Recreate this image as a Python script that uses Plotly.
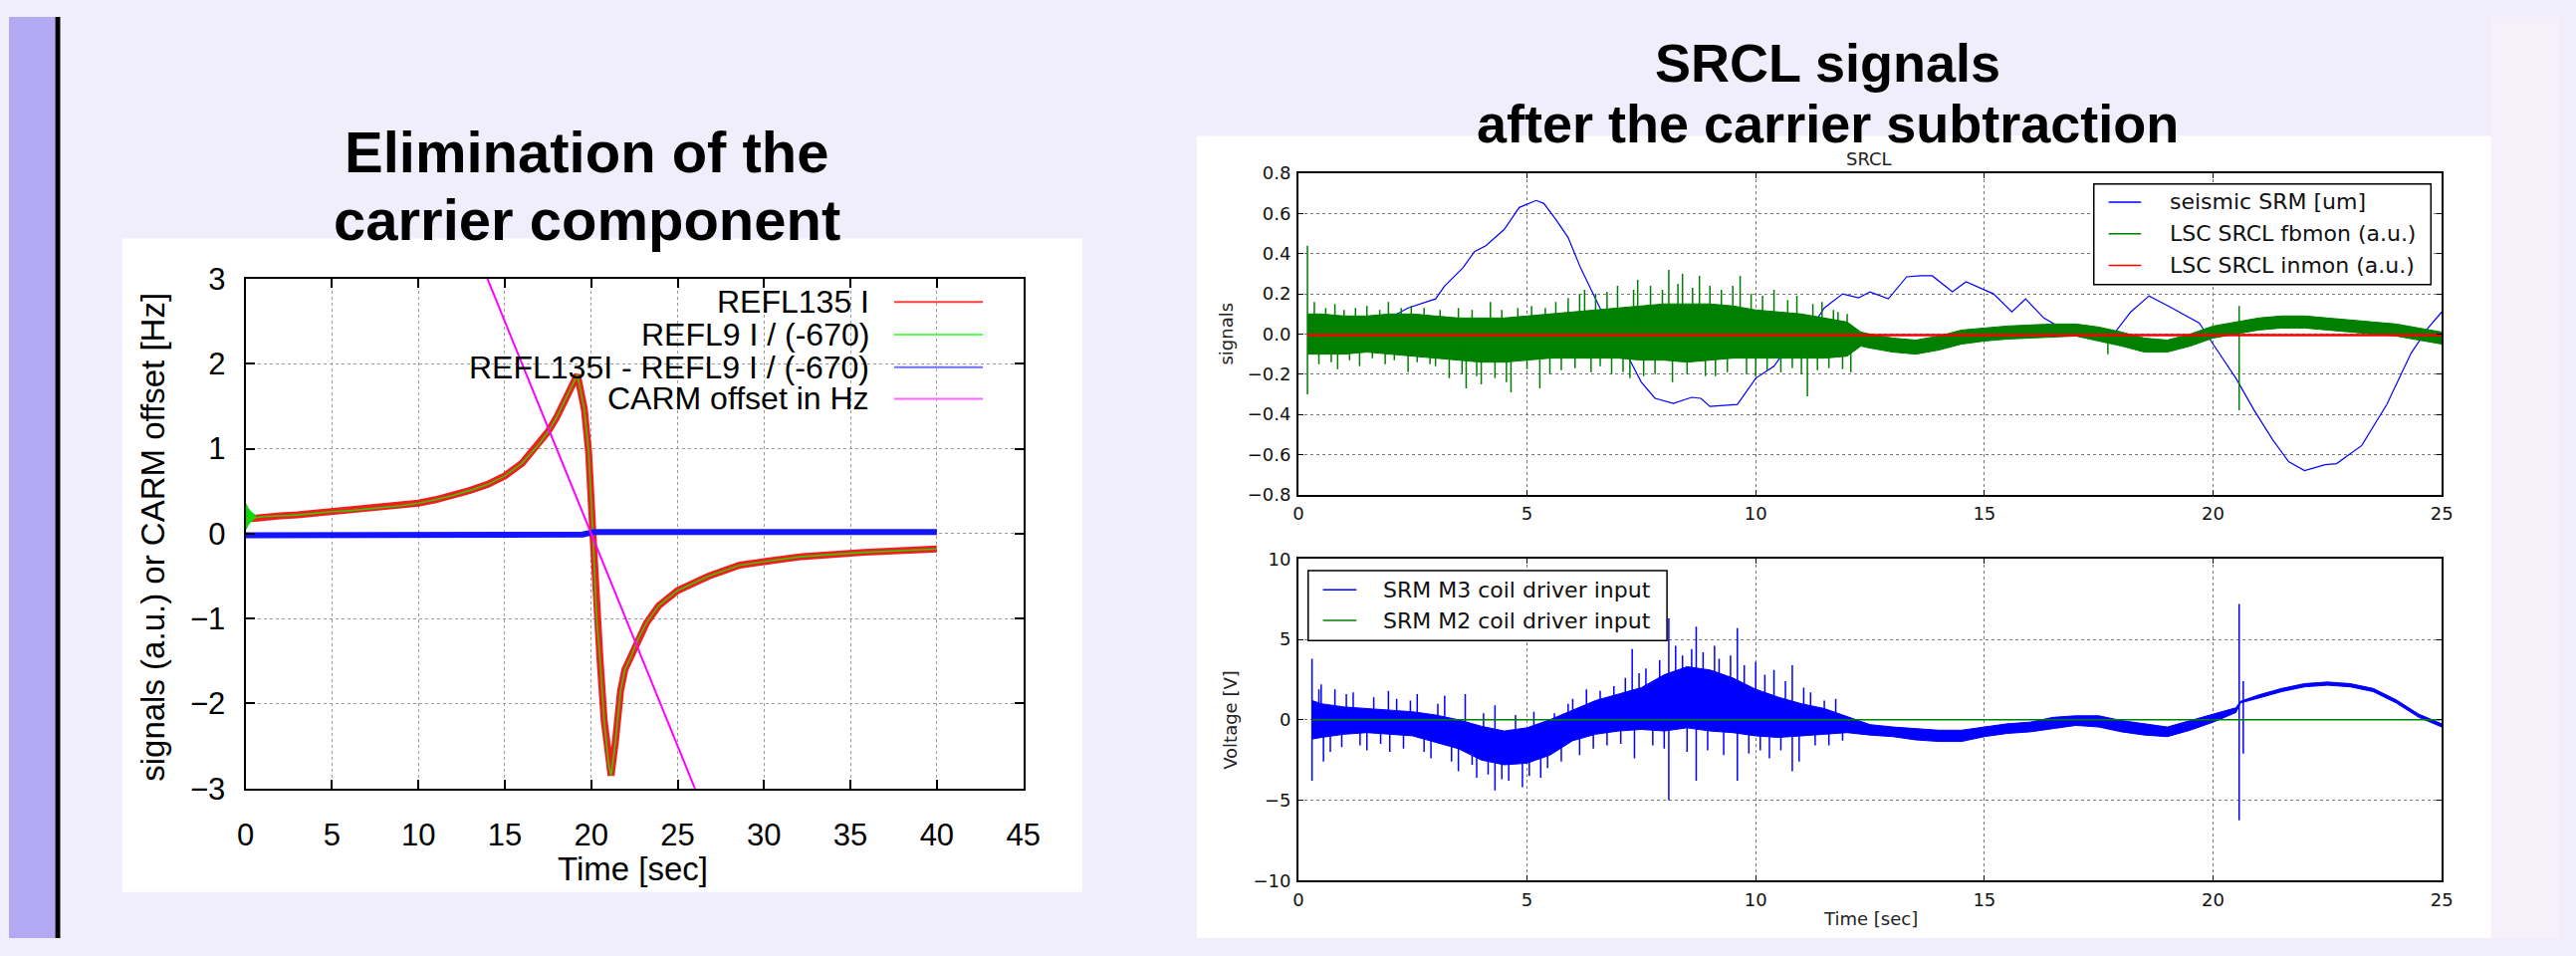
import numpy as np
import plotly.graph_objects as go

W, H = 2587, 960

# ---------------- Left chart: Elimination of the carrier component ----------------
refl_t = [0, 1, 2, 3, 4, 5, 6, 7, 8, 9, 10, 11, 12, 13, 14, 15, 16, 16.5, 17, 17.5, 18, 18.5,
          19.0, 19.2, 19.6, 19.85, 20.1, 20.3, 20.5, 20.75, 21.0, 21.15, 21.4, 21.7, 21.95, 22.3,
          22.7, 23.2, 23.9, 25, 26.8, 28.6, 30, 32.2, 35.8, 40]
refl135_i = [0.17, 0.2, 0.21, 0.22, 0.24, 0.26, 0.27, 0.29, 0.31, 0.33, 0.36, 0.4, 0.45, 0.51,
             0.58, 0.68, 0.83, 0.95, 1.06, 1.2, 1.37, 1.58, 1.8, 1.87, 1.47, 0.96, 0.0, -0.95,
             -1.45, -2.2, -2.7, -2.85, -2.45, -1.85, -1.6, -1.45, -1.25, -1.05, -0.85, -0.67,
             -0.5, -0.37, -0.33, -0.27, -0.22, -0.18]
refl9_i = [0.17, 0.2, 0.21, 0.22, 0.24, 0.26, 0.27, 0.29, 0.31, 0.33, 0.36, 0.4, 0.45, 0.51,
           0.58, 0.68, 0.83, 0.95, 1.06, 1.2, 1.37, 1.58, 1.8, 1.87, 1.47, 0.96, 0.0, -0.95,
           -1.45, -2.2, -2.7, -2.85, -2.45, -1.85, -1.6, -1.45, -1.25, -1.05, -0.85, -0.67,
           -0.5, -0.37, -0.33, -0.27, -0.22, -0.18]
ring_t = [0, 0.15, 0.3, 0.45, 0.6]
ring_hi = [0.36, 0.3, 0.26, 0.23, 0.21]
ring_lo = [0.04, 0.1, 0.14, 0.17, 0.19]
diff_t = [0, 5, 10, 15, 19.5, 20.2, 25, 30, 35, 40]
diff_v = [-0.02, -0.02, -0.015, -0.01, -0.01, 0.02, 0.02, 0.02, 0.015, 0.02]
carm_t = [0, 40]
carm_hz = [10, -10]

# ---------------- Right top: SRCL ----------------
seis_t = [0.2, 1.0, 1.6, 2.0, 2.4, 3.0, 3.2, 3.6, 3.85, 4.1, 4.5, 4.83, 5.2, 5.37, 5.63, 5.9,
          6.17, 6.44, 6.7, 7.0, 7.25, 7.5, 7.8, 8.2, 8.6, 8.8, 9.0, 9.6, 10.0, 10.4, 10.9, 11.3,
          11.5, 11.9, 12.25, 12.5, 12.9, 13.3, 13.6, 13.86, 14.3, 14.6, 15.2, 15.6, 15.9, 16.3,
          16.6, 17.35, 17.8, 18.2, 18.6, 19.1, 19.7, 20.0, 20.5, 20.9, 21.3, 21.65, 22.0, 22.45,
          22.7, 23.25, 23.8, 24.33, 24.7, 25.0]
seis_v = [0.0, 0.02, 0.05, 0.08, 0.13, 0.175, 0.24, 0.33, 0.41, 0.44, 0.52, 0.63, 0.665, 0.65,
          0.57, 0.48, 0.33, 0.2, 0.08, -0.03, -0.13, -0.24, -0.32, -0.345, -0.315, -0.32, -0.36,
          -0.35, -0.22, -0.16, 0.0, 0.06, 0.13, 0.2, 0.18, 0.21, 0.175, 0.285, 0.29, 0.29, 0.21,
          0.26, 0.2, 0.11, 0.175, 0.08, 0.04, 0.015, -0.008, 0.11, 0.19, 0.13, 0.055, -0.05,
          -0.22, -0.38, -0.525, -0.635, -0.68, -0.65, -0.645, -0.555, -0.35, -0.095, 0.03, 0.11]

fb_t = [0.2, 0.5, 1, 1.5, 2, 2.5, 3, 3.5, 4, 4.5, 5, 5.5, 6, 6.5, 7, 7.5, 8, 8.5, 9, 9.5, 10,
        10.5, 11, 11.5, 12.0, 12.3, 12.5, 13, 13.5, 14, 14.5, 15, 15.5, 16, 16.5, 17, 17.5, 18,
        18.5, 19, 19.5, 20, 20.5, 21, 21.5, 22, 22.5, 23, 23.5, 24, 24.5, 25]
fb_hi = [0.1, 0.1, 0.09, 0.09, 0.1, 0.1, 0.09, 0.08, 0.08, 0.08, 0.09, 0.1, 0.11, 0.12, 0.13,
         0.14, 0.15, 0.15, 0.15, 0.14, 0.12, 0.11, 0.1, 0.08, 0.06, 0.01, 0.0, -0.02, -0.03,
         -0.01, 0.02, 0.03, 0.04, 0.045, 0.05, 0.05, 0.035, 0.01, -0.02, -0.03, 0.0, 0.04, 0.06,
         0.08, 0.09, 0.09, 0.08, 0.07, 0.06, 0.05, 0.03, 0.01]
fb_lo = [-0.1, -0.1, -0.1, -0.09, -0.1, -0.11, -0.12, -0.13, -0.14, -0.14, -0.13, -0.12,
         -0.12, -0.12, -0.12, -0.13, -0.13, -0.14, -0.13, -0.12, -0.12, -0.12, -0.12, -0.12,
         -0.11, -0.06, -0.07, -0.09, -0.1, -0.08, -0.05, -0.035, -0.025, -0.02, -0.015, -0.01,
         -0.035, -0.06, -0.09, -0.09, -0.06, -0.02, 0.0, 0.02, 0.03, 0.03, 0.02, 0.01, 0.0,
         -0.01, -0.03, -0.05]
fb_spike_t = [0.2, 0.2, 0.35, 0.45, 0.6, 0.72, 0.8, 0.86, 1.0, 1.12, 1.25, 1.34, 1.5, 1.62,
              1.78, 1.9, 1.97, 2.1, 2.25, 2.4, 2.47, 2.6, 2.75, 2.88, 3.0, 3.1, 3.3, 3.5, 3.58,
              3.67, 3.8, 3.9, 4.0, 4.2, 4.3, 4.45, 4.55, 4.65, 4.8, 5.0, 5.1, 5.28, 5.4, 5.5,
              5.63, 5.75, 5.9, 6.05, 6.15, 6.26, 6.4, 6.5, 6.6, 6.75, 6.85, 6.98, 7.1, 7.25,
              7.33, 7.42, 7.55, 7.7, 7.8, 7.96, 8.1, 8.18, 8.3, 8.4, 8.5, 8.62, 8.77, 8.9, 9.0,
              9.12, 9.25, 9.38, 9.5, 9.66, 9.8, 9.9, 10.0, 10.15, 10.25, 10.4, 10.55, 10.7,
              10.8, 10.9, 11.0, 11.13, 11.25, 11.35, 11.45, 11.6, 11.7, 11.8, 11.9, 12.0, 12.08,
              17.7, 20.57, 20.57]
fb_spike_v = [0.44, -0.30, 0.16, -0.15, 0.13, -0.14, 0.15, -0.175, 0.12, -0.13, 0.13, -0.16,
              0.14, -0.12, 0.12, -0.15, 0.16, -0.13, 0.13, -0.19, 0.14, -0.14, 0.13, -0.15,
              -0.16, 0.12, -0.22, 0.13, -0.2, -0.27, 0.12, -0.21, -0.25, 0.16, -0.22, 0.12,
              -0.24, -0.29, 0.13, -0.175, 0.14, -0.27, 0.13, -0.2, 0.16, -0.18, 0.18, -0.17,
              0.2, 0.22, -0.19, 0.2, -0.16, 0.21, -0.2, 0.24, -0.19, -0.22, 0.22, 0.27, -0.21,
              0.24, -0.2, 0.22, 0.32, -0.24, 0.25, 0.30, -0.2, 0.23, 0.29, -0.21, 0.24, -0.21,
              0.22, -0.19, 0.24, 0.29, -0.2, 0.2, -0.21, 0.19, -0.18, 0.22, -0.19, 0.17, -0.17,
              0.19, -0.2, -0.31, 0.15, -0.18, 0.16, -0.17, 0.12, 0.11, -0.175, 0.1, -0.19,
              -0.10, 0.14, -0.38]
inmon_t = [0.2, 25]
inmon_v = [-0.005, -0.005]

# ---------------- Right bottom: coil driver inputs ----------------
m3_t = [0.3, 0.5, 1.0, 1.5, 2.0, 2.5, 3.0, 3.5, 4.0, 4.5, 5.0, 5.5, 6.0, 6.5, 7.0, 7.5, 8.0,
        8.5, 9.0, 9.5, 10.0, 10.5, 11.0, 11.5, 12.0, 12.5, 13.0, 13.5, 14.0, 14.5, 15.0, 15.5,
        16.0, 16.5, 17.0, 17.5, 18.0, 18.5, 19.0, 19.5, 20.0, 20.5, 20.6, 21.0, 21.5, 22.0,
        22.5, 23.0, 23.5, 24.0, 24.5, 25.0]
m3_hi = [1.2, 1.0, 0.8, 0.7, 0.6, 0.5, 0.3, 0.0, -0.4, -0.7, -0.5, 0.0, 0.6, 1.2, 1.6, 2.0,
         2.8, 3.3, 3.1, 2.6, 1.9, 1.4, 1.0, 0.7, 0.2, -0.3, -0.45, -0.55, -0.65, -0.65, -0.45,
         -0.25, -0.15, 0.15, 0.25, 0.25, -0.05, -0.25, -0.45, -0.05, 0.35, 0.75, 1.15, 1.55,
         1.95, 2.25, 2.35, 2.25, 1.95, 1.25, 0.35, -0.25]
m3_lo = [-1.2, -1.1, -0.9, -0.8, -0.9, -1.0, -1.4, -1.8, -2.5, -2.8, -2.7, -2.2, -1.3, -0.9,
         -0.7, -0.6, -0.7, -0.5, -0.7, -0.8, -1.0, -1.1, -1.0, -0.9, -0.8, -0.95, -1.05, -1.25,
         -1.35, -1.35, -1.05, -0.85, -0.75, -0.55, -0.35, -0.45, -0.75, -0.95, -1.05, -0.65,
         -0.15, 0.45, 1.05, 1.35, 1.75, 2.05, 2.15, 2.05, 1.75, 1.05, 0.15, -0.45]
m3_spike_t = [0.3, 0.3, 0.45, 0.5, 0.55, 0.7, 0.8, 0.95, 1.05, 1.2, 1.35, 1.5, 1.65, 1.8, 1.97,
              2.0, 2.15, 2.3, 2.45, 2.6, 2.75, 2.9, 3.05, 3.2, 3.35, 3.5, 3.65, 3.8, 3.9, 4.05,
              4.15, 4.3, 4.3, 4.45, 4.6, 4.75, 4.9, 5.05, 5.15, 5.3, 5.45, 5.6, 5.75, 5.9, 6.0,
              6.15, 6.3, 6.45, 6.6, 6.75, 6.9, 7.05, 7.15, 7.3, 7.35, 7.45, 7.6, 7.75, 7.9, 8.0,
              8.1, 8.1, 8.25, 8.4, 8.5, 8.6, 8.7, 8.7, 8.85, 8.95, 9.1, 9.2, 9.3, 9.45, 9.6,
              9.6, 9.75, 9.85, 10.0, 10.1, 10.2, 10.3, 10.4, 10.55, 10.65, 10.8, 10.8, 10.95,
              11.05, 11.2, 11.3, 11.5, 11.6, 11.75, 11.9, 20.57, 20.57, 20.66, 20.66]
m3_spike_v = [3.8, -3.8, 1.9, 2.2, -2.6, -2.0, 1.9, -1.7, 1.6, 1.7, -1.6, -1.9, 1.4, -1.5,
              1.8, -2.0, 1.3, -1.8, 1.2, 1.6, -2.0, -2.4, 1.0, 1.5, -2.6, -3.2, 1.6, -2.8, -3.6,
              0.4, -3.4, -4.4, 0.9, -3.7, -3.8, 0.3, -4.2, -3.5, 0.5, -3.6, -3.0, 0.4, -2.6,
              1.0, 1.3, -2.2, 1.9, -1.8, 1.8, -1.6, 2.1, -1.5, 2.6, 4.4, -2.4, 2.9, 3.2, -1.6,
              3.7, -1.8, 6.3, -5.0, 4.6, 4.0, -2.0, 4.4, 5.8, -3.8, 4.2, -1.9, 4.6, 3.8, -2.2,
              4.0, 5.7, -3.8, 3.4, -2.1, 3.6, -1.9, 2.8, -2.4, 3.1, -1.9, 2.4, 3.4, -3.2, -2.6,
              2.0, 1.7, -1.6, 1.2, -1.6, 1.3, -1.3, 7.2, -6.25, 2.4, -2.1]
m2_t = [0.3, 25]
m2_v = [0, 0]


def px(x):
    return x / W


def py(y):
    return 1 - y / H


def spikes(ts, vs, bt, bhi, blo):
    mid = (np.array(bhi) + np.array(blo)) / 2.0
    xs, ys = [], []
    for t, v in zip(ts, vs):
        c = float(np.interp(t, bt, mid))
        xs += [t, t, None]
        ys += [c, v, None]
    return xs, ys


fig = go.Figure()

# Left chart traces
fig.add_trace(go.Scatter(x=refl_t, y=refl135_i, mode="lines", line=dict(color="rgb(240,30,30)", width=7),
                         xaxis="x", yaxis="y", hoverinfo="skip"))
fig.add_trace(go.Scatter(x=ring_t, y=ring_lo, mode="lines", line=dict(color="rgb(0,220,0)", width=1),
                         xaxis="x", yaxis="y", hoverinfo="skip"))
fig.add_trace(go.Scatter(x=ring_t, y=ring_hi, mode="lines", line=dict(color="rgb(0,220,0)", width=1),
                         fill="tonexty", fillcolor="rgb(0,220,0)", xaxis="x", yaxis="y", hoverinfo="skip"))
fig.add_trace(go.Scatter(x=refl_t, y=refl9_i, mode="lines", line=dict(color="rgb(60,200,0)", width=1.6),
                         xaxis="x", yaxis="y", hoverinfo="skip"))
fig.add_trace(go.Scatter(x=diff_t, y=diff_v, mode="lines", line=dict(color="rgb(20,20,255)", width=6),
                         xaxis="x", yaxis="y", hoverinfo="skip"))
fig.add_trace(go.Scatter(x=carm_t, y=carm_hz, mode="lines", line=dict(color="rgb(255,0,255)", width=2),
                         xaxis="x", yaxis="y", hoverinfo="skip"))

# Right top traces
fig.add_trace(go.Scatter(x=seis_t, y=seis_v, mode="lines", line=dict(color="#0000FF", width=1.2),
                         xaxis="x2", yaxis="y2", hoverinfo="skip"))
fig.add_trace(go.Scatter(x=fb_t, y=fb_lo, mode="lines", line=dict(color="#007F00", width=1),
                         xaxis="x2", yaxis="y2", hoverinfo="skip"))
fig.add_trace(go.Scatter(x=fb_t, y=fb_hi, mode="lines", line=dict(color="#007F00", width=1),
                         fill="tonexty", fillcolor="#007F00", xaxis="x2", yaxis="y2", hoverinfo="skip"))
sx, sy = spikes(fb_spike_t, fb_spike_v, fb_t, fb_hi, fb_lo)
fig.add_trace(go.Scatter(x=sx, y=sy, mode="lines", line=dict(color="#007F00", width=1.5),
                         xaxis="x2", yaxis="y2", hoverinfo="skip", connectgaps=False))
fig.add_trace(go.Scatter(x=inmon_t, y=inmon_v, mode="lines", line=dict(color="#FF0000", width=2.5),
                         xaxis="x2", yaxis="y2", hoverinfo="skip"))

# Right bottom traces
fig.add_trace(go.Scatter(x=m3_t, y=m3_lo, mode="lines", line=dict(color="#0000FF", width=1),
                         xaxis="x3", yaxis="y3", hoverinfo="skip"))
fig.add_trace(go.Scatter(x=m3_t, y=m3_hi, mode="lines", line=dict(color="#0000FF", width=1),
                         fill="tonexty", fillcolor="#0000FF", xaxis="x3", yaxis="y3", hoverinfo="skip"))
sx, sy = spikes(m3_spike_t, m3_spike_v, m3_t, m3_hi, m3_lo)
fig.add_trace(go.Scatter(x=sx, y=sy, mode="lines", line=dict(color="#0000FF", width=1.5),
                         xaxis="x3", yaxis="y3", hoverinfo="skip", connectgaps=False))
fig.add_trace(go.Scatter(x=m2_t, y=m2_v, mode="lines", line=dict(color="#008000", width=1.5),
                         xaxis="x3", yaxis="y3", hoverinfo="skip"))

LF = "Liberation Sans, Arial, Helvetica, sans-serif"
DF = "DejaVu Sans, sans-serif"

gp_axis = dict(showline=True, linecolor="black", linewidth=2, mirror="ticks", ticks="inside",
               ticklen=9, tickwidth=1.5, tickcolor="black", showgrid=True, gridcolor="#9a9a9a",
               griddash="dot", gridwidth=1, zeroline=False,
               tickfont=dict(family=LF, size=31, color="black"))
mp_axis = dict(showline=True, linecolor="black", linewidth=1.5, mirror="ticks", ticks="inside",
               ticklen=5, tickwidth=1, tickcolor="black", showgrid=True, gridcolor="#777777",
               griddash="dot", gridwidth=1, zeroline=False,
               tickfont=dict(family=DF, size=18, color="#111111"))

layout = dict(
    autosize=True, margin=dict(l=0, r=0, t=0, b=0, pad=0), showlegend=False,
    paper_bgcolor="#F0EEFB", plot_bgcolor="white",
    xaxis=dict(domain=[px(240), px(1029)], range=[0, 45], dtick=5, tick0=0, anchor="y",
               ticklabelstandoff=18, **gp_axis),
    yaxis=dict(domain=[py(804), py(273)], range=[-3, 3], dtick=1, tick0=0, anchor="x",
               ticklabelstandoff=12, **gp_axis),
    xaxis2=dict(domain=[px(1308), px(2468)], range=[0, 25], dtick=5, tick0=0, anchor="y2",
                ticklabelstandoff=2, **mp_axis),
    yaxis2=dict(domain=[py(498), py(163)], range=[-0.8, 0.8], dtick=0.2, tick0=0, anchor="x2",
                tickformat=".1f", ticklabelstandoff=2, **mp_axis),
    xaxis3=dict(domain=[px(1308), px(2468)], range=[0, 25], dtick=5, tick0=0, anchor="y3",
                ticklabelstandoff=2, **mp_axis),
    yaxis3=dict(domain=[py(900), py(565)], range=[-10, 10], dtick=5, tick0=0, anchor="x3",
                ticklabelstandoff=2, **mp_axis),
)
fig.update_layout(**layout)

shapes = []
# slide decorations / image panels
shapes.append(dict(type="rect", xref="paper", yref="paper", x0=0, x1=px(47), y0=0, y1=1,
                   fillcolor="#B3A9F3", line=dict(width=0), layer="below"))
shapes.append(dict(type="rect", xref="paper", yref="paper", x0=px(47), x1=px(52), y0=0, y1=1,
                   fillcolor="#000000", line=dict(width=0), layer="below"))
shapes.append(dict(type="rect", xref="paper", yref="paper", x0=px(2518), x1=1, y0=0, y1=1,
                   fillcolor="#F5F0FA", line=dict(width=0), layer="below"))
shapes.append(dict(type="rect", xref="paper", yref="paper", x0=px(115), x1=px(1089), y0=py(912),
                   y1=py(231), fillcolor="white", line=dict(width=0), layer="below"))
shapes.append(dict(type="rect", xref="paper", yref="paper", x0=px(1205), x1=px(2518), y0=0,
                   y1=py(124), fillcolor="white", line=dict(width=0), layer="below"))

annotations = []


def text(x, y, s, size, family, xanchor="center", angle=0, bold=False, color="black"):
    annotations.append(dict(xref="paper", yref="paper", x=px(x), y=py(y), text=("<b>%s</b>" % s) if bold else s,
                            showarrow=False, xanchor=xanchor, yanchor="middle", textangle=angle,
                            font=dict(family=family, size=size, color=color)))


# slide titles
text(586, 141, "Elimination of the", 58, LF, bold=True)
text(586, 211, "carrier component", 58, LF, bold=True)
text(1845, 48, "SRCL signals", 54, LF, bold=True)
text(1845, 111, "after the carrier subtraction", 54, LF, bold=True)

# left chart labels
text(146, 542, "signals (a.u.) or CARM offset [Hz]", 33, LF, angle=-90)
text(633, 888, "Time [sec]", 33, LF)

# left legend (gnuplot style: right aligned text, sample at right)
left_leg = [("REFL135 I", "rgb(255,60,60)", 297), ("REFL9 I / (-670)", "rgb(90,255,90)", 331),
            ("REFL135I - REFL9 I / (-670)", "rgb(110,110,255)", 365),
            ("CARM offset in Hz", "rgb(255,100,255)", 398)]
for lab, col, yy in left_leg:
    text(875, yy, lab, 32, LF, xanchor="right")
    shapes.append(dict(type="line", xref="paper", yref="paper", x0=px(898), x1=px(988), y0=py(yy), y1=py(yy),
                       line=dict(color=col, width=2)))

# right chart labels
text(1887, 148, "SRCL", 18, DF, color="#222")
text(1235, 330, "signals", 18, DF, angle=-90, color="#222")
text(1239, 733, "Voltage [V]", 18, DF, angle=-90, color="#222")
text(1888, 940, "Time [sec]", 18, DF, color="#222")

# matplotlib-style legends
shapes.append(dict(type="rect", xref="paper", yref="paper", x0=px(2115), x1=px(2457), y0=py(279), y1=py(174),
                   fillcolor="white", line=dict(color="black", width=1.5)))
for lab, col, yy in [("seismic SRM [um]", "#0000FF", 193), ("LSC SRCL fbmon (a.u.)", "#008000", 226),
                     ("LSC SRCL inmon (a.u.)", "#FF0000", 259)]:
    shapes.append(dict(type="line", xref="paper", yref="paper", x0=px(2130), x1=px(2163), y0=py(yy), y1=py(yy),
                       line=dict(color=col, width=1.5)))
    text(2190, yy, lab, 22, DF, xanchor="left", color="#111")

shapes.append(dict(type="rect", xref="paper", yref="paper", x0=px(1318), x1=px(1682), y0=py(650), y1=py(577),
                   fillcolor="white", line=dict(color="black", width=1.5)))
for lab, col, yy in [("SRM M3 coil driver input", "#0000FF", 597), ("SRM M2 coil driver input", "#008000", 629)]:
    shapes.append(dict(type="line", xref="paper", yref="paper", x0=px(1333), x1=px(1367), y0=py(yy), y1=py(yy),
                       line=dict(color=col, width=1.5)))
    text(1392, yy, lab, 22, DF, xanchor="left", color="#111")

fig.update_layout(shapes=shapes, annotations=annotations)
post = ("document.documentElement.style.cssText='margin:0;padding:0;overflow:hidden;background:#F0EEFB';"
        "document.body.style.cssText='margin:0;padding:0;overflow:hidden;background:#F0EEFB';")
fig.write_html("out.html", config={"displayModeBar": False}, post_script=post,
               default_width="100vw", default_height="100vh")
